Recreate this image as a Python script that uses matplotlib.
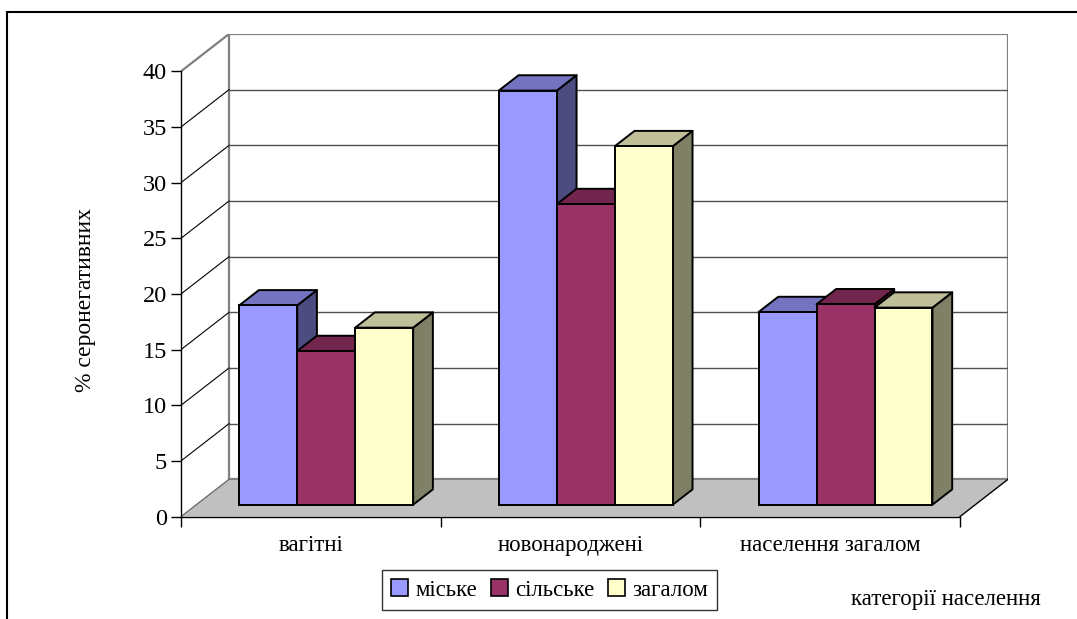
import matplotlib
matplotlib.use("Agg")
import matplotlib.pyplot as plt
from matplotlib.patches import Polygon, Rectangle, Patch

# ---- data -------------------------------------------------------------
categories = ["вагітні", "новонароджені", "населення загалом"]
series_names = ["міське", "сільське", "загалом"]
urban = [17.9, 37.2, 17.3]
rural = [13.8, 27.0, 18.0]
total = [15.9, 32.2, 17.7]
y_ticks = [0, 5, 10, 15, 20, 25, 30, 35, 40]

series_values = [urban, rural, total]
front_colors = ["#9999FF", "#993366", "#FFFFCC"]
top_colors = ["#7373BF", "#73264D", "#BFBF99"]
side_colors = ["#4C4C80", "#4D1A33", "#808066"]

plt.rcParams["font.family"] = ["Liberation Serif", "DejaVu Serif"]

W, H = 1077, 619
fig = plt.figure(figsize=(W / 100, H / 100), dpi=100)

# oblique projection of the depth axis, in data units
DX = 0.185      # category units for full depth
DY = 3.35       # value units for full depth
YMAX = 40
n_cat = len(categories)

ax = fig.add_axes([181 / W, (H - 516.6) / H, 827 / W, (516.6 - 34) / H])
ax.set_xlim(0, n_cat + DX)
ax.set_ylim(0, YMAX + DY)
ax.patch.set_visible(False)

# walls and floor
left_wall = Polygon([(0, 0), (DX, DY), (DX, YMAX + DY), (0, YMAX)],
                    closed=True, facecolor="white", edgecolor="none", zorder=0)
back_wall = Polygon([(DX, DY), (n_cat + DX, DY), (n_cat + DX, YMAX + DY), (DX, YMAX + DY)],
                    closed=True, facecolor="white", edgecolor="#808080", lw=1.6, zorder=0.5)
floor = Polygon([(0, 0), (n_cat, 0), (n_cat + DX, DY), (DX, DY)],
                closed=True, facecolor="#C0C0C0", edgecolor="none", zorder=1)
for p in (left_wall, back_wall, floor):
    ax.add_patch(p)
ax.plot([0, DX], [0, DY], color="#707070", lw=1.0, zorder=1.2)
ax.plot([n_cat, n_cat + DX], [0, DY], color="black", lw=1.0, zorder=1.2)
ax.plot([DX, n_cat + DX], [DY, DY], color="#808080", lw=1.4, zorder=1.1)

# gridlines on the side and back walls
for v in y_ticks[1:]:
    top_edge = v == YMAX
    ax.plot([0, DX], [v, v + DY], color="#808080" if top_edge else "black",
            lw=1.6 if top_edge else 0.8, zorder=0.8)
    if not top_edge:
        ax.plot([DX, n_cat + DX], [v + DY, v + DY], color="#505050", lw=1.0, zorder=0.8)

# bars
gap = 0.33
bw = (1 - gap) / len(series_values)
f_front = 0.32   # depth position of bar fronts
f_depth = 0.41   # bar depth
ox, oy = f_front * DX, f_front * DY
bx, by = f_depth * DX, f_depth * DY
z = 2
for i in range(n_cat):
    for j, vals in enumerate(series_values):
        v = vals[i]
        x0 = i + gap / 2 + j * bw + ox
        side = Polygon([(x0 + bw, oy), (x0 + bw + bx, oy + by),
                        (x0 + bw + bx, oy + v + by), (x0 + bw, oy + v)],
                       closed=True, facecolor=side_colors[j], edgecolor="black",
                       lw=1.4, zorder=z, joinstyle="round")
        top = Polygon([(x0, oy + v), (x0 + bw, oy + v),
                       (x0 + bw + bx, oy + v + by), (x0 + bx, oy + v + by)],
                      closed=True, facecolor=top_colors[j], edgecolor="black",
                      lw=1.4, zorder=z, joinstyle="round")
        ax.add_patch(side)
        ax.add_patch(top)
        ax.bar(x0, v, width=bw, bottom=oy, align="edge", color=front_colors[j],
               edgecolor="black", lw=1.4, zorder=z + 0.1)
        z += 0.2

# axes, ticks and labels
for s in ("top", "right"):
    ax.spines[s].set_visible(False)
ax.spines["left"].set_bounds(0, YMAX)
ax.spines["bottom"].set_bounds(0, n_cat)
ax.spines["left"].set_zorder(5)
ax.spines["bottom"].set_zorder(5)
ax.spines["left"].set_linewidth(1.0)
ax.spines["bottom"].set_linewidth(1.0)

ax.set_yticks(y_ticks)
ax.set_yticklabels([str(t) for t in y_ticks])
ax.tick_params(axis="y", length=7, width=1.0, pad=3, labelsize=17.5)

ax.set_xticks(range(n_cat + 1))
ax.set_xticklabels([])
ax.set_xticks([i + 0.5 for i in range(n_cat)], minor=True)
ax.set_xticklabels(categories, minor=True)
ax.tick_params(axis="x", which="major", length=7, width=1.0)
ax.tick_params(axis="x", which="minor", length=0, pad=13, labelsize=16.5)

fig.text(85 / W, 1 - 300 / H, "% серонегативних", rotation=90,
         ha="center", va="center", fontsize=17)
fig.text(946 / W, 1 - 600 / H, "категорії населення",
         ha="center", va="center", fontsize=16.5)

handles = [Patch(facecolor=c, edgecolor="black", lw=1.2) for c in front_colors]
leg = fig.legend(handles, series_names, loc="center",
                 bbox_to_anchor=(549.5 / W, 1 - 590 / H), bbox_transform=fig.transFigure,
                 ncol=3, fontsize=16.5, frameon=True, fancybox=False, shadow=False,
                 handlelength=0.75, handleheight=0.75, handletextpad=0.3,
                 columnspacing=0.6, borderpad=0.4, borderaxespad=0)
leg.get_frame().set_edgecolor("black")
leg.get_frame().set_linewidth(1.0)

# outer frame (left and top edges visible)
fig.add_artist(Rectangle((7 / W, -0.1), 1.2, 1.1 - 12 / H, transform=fig.transFigure,
                         fill=False, edgecolor="black", lw=1.5))

fig.savefig("out.png", dpi=100)
